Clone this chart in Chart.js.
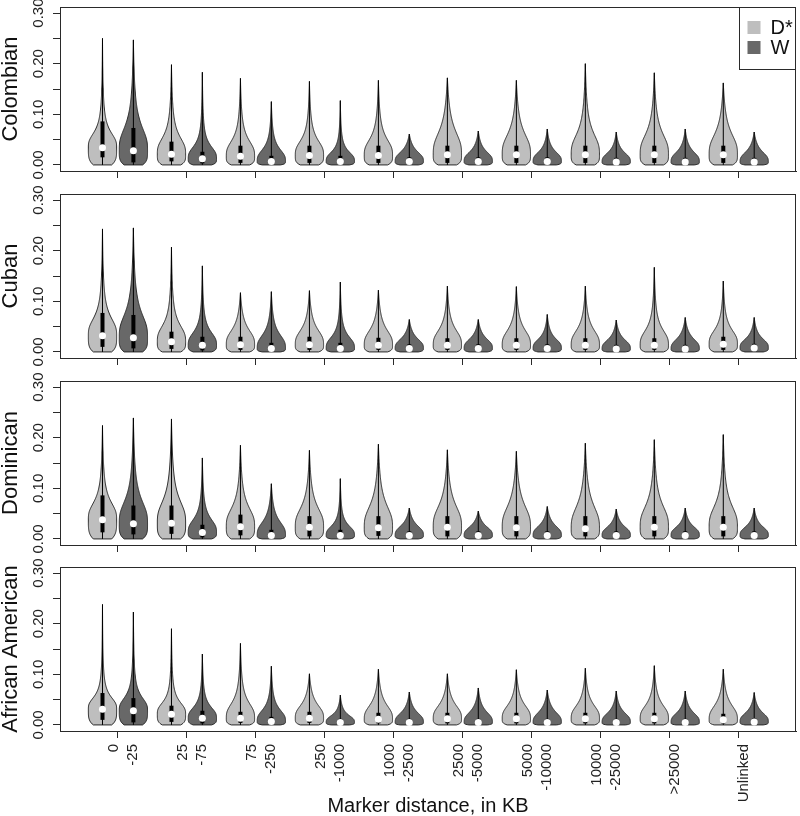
<!DOCTYPE html>
<html>
<head>
<meta charset="utf-8">
<script src="https://cdn.jsdelivr.net/npm/chart.js@4.4.0/dist/chart.umd.min.js"></script>
<style>
body { margin: 0; background: #fff; }
#wrap { position: relative; width: 800px; height: 816px; }
canvas { position: absolute; left: 0; }
</style>
</head>
<body>
<div id="wrap">
  <canvas id="c0" width="800" height="187" style="top:0px"></canvas>
  <canvas id="c1" width="800" height="207" style="top:167px"></canvas>
  <canvas id="c2" width="800" height="207" style="top:354px"></canvas>
  <canvas id="c3" width="800" height="276" style="top:540px"></canvas>
</div>
<script>
// panels, one row per population
const panels = ['Colombian', 'Cuban', 'Dominican', 'African American'];

// single labels get an empty first line so every label is centred on its tick
const groupLabels = [['0', '-25'], ['25', '-75'], ['75', '-250'], ['250', '-1000'], ['1000', '-2500'],
  ['2500', '-5000'], ['5000', '-10000'], ['10000', '-25000'], ['', '>25000'], ['', 'Unlinked']];
const singleLabel = [false, false, false, false, false, false, false, false, true, true];

const yTicks = [0, 0.05, 0.10, 0.15, 0.20, 0.25, 0.30];
const yTickLabels = ['0.00', '', '0.10', '', '0.20', '', '0.30'];

// D* violins
const dMax = [
  [0.250, 0.198, 0.171, 0.165, 0.167, 0.172, 0.167, 0.200, 0.182, 0.162],
  [0.243, 0.207, 0.117, 0.121, 0.122, 0.130, 0.129, 0.130, 0.167, 0.140],
  [0.224, 0.237, 0.185, 0.175, 0.187, 0.176, 0.173, 0.189, 0.196, 0.206],
  [0.238, 0.190, 0.161, 0.101, 0.110, 0.101, 0.109, 0.112, 0.117, 0.110]
];
const dMed = [
  [0.034, 0.021, 0.017, 0.0185, 0.0185, 0.020, 0.020, 0.020, 0.020, 0.020],
  [0.032, 0.020, 0.014, 0.014, 0.013, 0.013, 0.013, 0.013, 0.013, 0.015],
  [0.038, 0.031, 0.024, 0.023, 0.022, 0.023, 0.022, 0.020, 0.023, 0.023],
  [0.031, 0.021, 0.013, 0.013, 0.011, 0.012, 0.012, 0.012, 0.012, 0.010]
];
const dQ1 = [
  [0.015, 0.007, 0.004, 0.004, 0.004, 0.004, 0.004, 0.004, 0.004, 0.004],
  [0.010, 0.006, 0.004, 0.004, 0.004, 0.004, 0.004, 0.004, 0.004, 0.004],
  [0.013, 0.010, 0.007, 0.005, 0.006, 0.005, 0.005, 0.005, 0.005, 0.005],
  [0.010, 0.006, 0.004, 0.004, 0.003, 0.003, 0.003, 0.003, 0.003, 0.003]
];
const dQ3 = [
  [0.086, 0.046, 0.038, 0.038, 0.038, 0.038, 0.038, 0.038, 0.038, 0.038],
  [0.077, 0.040, 0.030, 0.030, 0.028, 0.027, 0.027, 0.027, 0.027, 0.030],
  [0.086, 0.066, 0.048, 0.045, 0.045, 0.045, 0.045, 0.045, 0.045, 0.045],
  [0.063, 0.038, 0.026, 0.026, 0.024, 0.024, 0.024, 0.024, 0.024, 0.022]
];
// height where the violin is half its widest
const dHalf = [
  [0.070, 0.062, 0.055, 0.055, 0.058, 0.075, 0.070, 0.070, 0.070, 0.070],
  [0.075, 0.060, 0.050, 0.050, 0.050, 0.050, 0.050, 0.050, 0.050, 0.050],
  [0.080, 0.085, 0.070, 0.070, 0.075, 0.075, 0.075, 0.075, 0.075, 0.075],
  [0.060, 0.050, 0.050, 0.045, 0.045, 0.045, 0.045, 0.045, 0.045, 0.045]
];

// W violins
const wMax = [
  [0.247, 0.183, 0.125, 0.127, 0.061, 0.067, 0.071, 0.065, 0.071, 0.065],
  [0.245, 0.170, 0.119, 0.138, 0.064, 0.064, 0.074, 0.063, 0.068, 0.068],
  [0.239, 0.160, 0.109, 0.119, 0.061, 0.055, 0.064, 0.059, 0.061, 0.061],
  [0.223, 0.140, 0.116, 0.059, 0.065, 0.073, 0.069, 0.067, 0.067, 0.064]
];
const wMed = [
  [0.028, 0.012, 0.007, 0.007, 0.007, 0.007, 0.007, 0.006, 0.006, 0.006],
  [0.028, 0.013, 0.007, 0.007, 0.007, 0.007, 0.007, 0.006, 0.006, 0.008],
  [0.030, 0.0125, 0.007, 0.007, 0.007, 0.007, 0.007, 0.007, 0.007, 0.007],
  [0.028, 0.013, 0.007, 0.005, 0.005, 0.005, 0.005, 0.005, 0.005, 0.006]
];
const wQ1 = [
  [0.005, 0.003, 0.002, 0.002, 0.002, 0.002, 0.002, 0.002, 0.002, 0.002],
  [0.007, 0.003, 0.002, 0.002, 0.002, 0.002, 0.002, 0.002, 0.002, 0.002],
  [0.009, 0.003, 0.002, 0.002, 0.002, 0.002, 0.002, 0.002, 0.002, 0.002],
  [0.005, 0.003, 0.002, 0.002, 0.002, 0.002, 0.002, 0.002, 0.002, 0.002]
];
const wQ3 = [
  [0.073, 0.026, 0.018, 0.018, 0.015, 0.015, 0.015, 0.014, 0.014, 0.014],
  [0.073, 0.030, 0.018, 0.018, 0.015, 0.015, 0.015, 0.014, 0.014, 0.016],
  [0.066, 0.028, 0.018, 0.018, 0.015, 0.015, 0.015, 0.015, 0.015, 0.015],
  [0.053, 0.028, 0.016, 0.012, 0.012, 0.012, 0.012, 0.012, 0.012, 0.013]
];
const wHalf = [
  [0.085, 0.042, 0.036, 0.030, 0.030, 0.030, 0.030, 0.028, 0.030, 0.030],
  [0.085, 0.045, 0.040, 0.035, 0.030, 0.030, 0.030, 0.028, 0.030, 0.030],
  [0.085, 0.045, 0.040, 0.030, 0.030, 0.028, 0.030, 0.028, 0.028, 0.028],
  [0.060, 0.040, 0.035, 0.022, 0.028, 0.030, 0.030, 0.028, 0.028, 0.028]
];

const COL_D = '#bebebe';
const COL_W = '#686868';
const LINE = '#2a2a2a';
const OFF = 0.224;     // offset of each violin from its group tick
const HALF_W = 0.205;  // widest half-width, in x units
const LABEL_LH = 19;   // line height of the x tick labels

Chart.defaults.font.family = "'Liberation Sans', Arial, sans-serif";

// outline half-width at height v: flat belly, rounded foot, long thin tail
function halfWidth(v, top, med, half) {
  const peak = med;
  if (v <= peak) {
    const t = (peak - v) / peak;
    return HALF_W * (1 - 0.35 * Math.pow(t, 4));
  }
  const u = (v - peak) / Math.max(half - peak, 0.004);
  const t = Math.min(1, (v - peak) / (top - peak));
  return HALF_W * Math.pow(1 + 1.828 * u * u * u, -2 / 3) * (1 - t * t * t);
}

function drawViolin(ctx, xs, ys, cx, top, med, half, q1, q3, fill) {
  const n = 120;
  ctx.beginPath();
  for (let j = 0; j <= n; j++) {
    const v = top * j / n;
    const px = xs.getPixelForValue(cx - halfWidth(v, top, med, half));
    const py = ys.getPixelForValue(v);
    j === 0 ? ctx.moveTo(px, py) : ctx.lineTo(px, py);
  }
  for (let j = n; j >= 0; j--) {
    const v = top * j / n;
    ctx.lineTo(xs.getPixelForValue(cx + halfWidth(v, top, med, half)), ys.getPixelForValue(v));
  }
  ctx.closePath();
  ctx.fillStyle = fill;
  ctx.fill();
  ctx.lineWidth = 1;
  ctx.strokeStyle = LINE;
  ctx.stroke();

  // whisker and box
  const xp = xs.getPixelForValue(cx);
  ctx.beginPath();
  ctx.moveTo(xp, ys.getPixelForValue(0));
  ctx.lineTo(xp, ys.getPixelForValue(top));
  ctx.strokeStyle = '#000';
  ctx.stroke();
  ctx.fillStyle = '#000';
  const y3 = ys.getPixelForValue(q3), y1 = ys.getPixelForValue(q1);
  ctx.fillRect(xp - 2, y3, 4, y1 - y3);
}

const violinPlugin = {
  id: 'violins',
  beforeDatasetsDraw(chart, args, opts) {
    const i = opts.panel;
    const {ctx, scales: {x, y}} = chart;
    ctx.save();
    ctx.lineJoin = 'round';
    for (let k = 0; k < groupLabels.length; k++) {
      drawViolin(ctx, x, y, k - OFF, dMax[i][k], dMed[i][k], dHalf[i][k], dQ1[i][k], dQ3[i][k], COL_D);
      drawViolin(ctx, x, y, k + OFF, wMax[i][k], wMed[i][k], wHalf[i][k], wQ1[i][k], wQ3[i][k], COL_W);
    }
    ctx.restore();
  },
  afterDraw(chart, args, opts) {
    const {ctx, chartArea: a} = chart;
    ctx.save();
    ctx.strokeStyle = LINE;
    ctx.lineWidth = 1;
    const l = Math.round(a.left) + 0.5, t = Math.round(a.top) + 0.5;
    const r = Math.round(a.right) - 0.5, b = Math.round(a.bottom) + 0.5;
    ctx.strokeRect(l, t, r - l, b - t);
    if (opts.legend) {
      const lx = Math.round(a.right) - 56.5;
      ctx.strokeRect(lx, t, r - lx, 62);
      chart.data.datasets.forEach((ds, j) => {
        ctx.fillStyle = ds.swatch;
        ctx.fillRect(lx + 8, t + 13.5 + j * 20, 13, 13);
        ctx.fillStyle = '#111';
        ctx.font = "20px 'Liberation Sans', Arial, sans-serif";
        ctx.textBaseline = 'middle';
        ctx.fillText(ds.label, lx + 31, t + 21 + j * 20);
      });
    }
    ctx.restore();
  }
};

function medianPoints(meds, i, off) {
  return meds[i].map((m, k) => ({x: k + off, y: m}));
}

panels.forEach((name, i) => {
  const last = i === panels.length - 1;
  const padTop = i === 0 ? 7 : 27;
  new Chart(document.getElementById('c' + i), {
    type: 'scatter',
    data: {
      datasets: [{
        label: 'D*',
        swatch: COL_D,
        data: medianPoints(dMed, i, -OFF),
        pointRadius: 3.5,
        pointBackgroundColor: '#fff',
        pointBorderWidth: 0
      }, {
        label: 'W',
        swatch: COL_W,
        data: medianPoints(wMed, i, OFF),
        pointRadius: 3.5,
        pointBackgroundColor: '#fff',
        pointBorderWidth: 0
      }]
    },
    options: {
      responsive: false,
      animation: false,
      layout: { padding: { top: padTop, right: 2, left: 0, bottom: 0 } },
      plugins: {
        legend: { display: false },
        tooltip: { enabled: false },
        violins: { panel: i, legend: i === 0 }
      },
      scales: {
        x: {
          type: 'linear',
          min: -0.84,
          max: 9.83,
          afterBuildTicks: s => { s.ticks = groupLabels.map((_, k) => ({ value: k })); },
          afterFit: s => {
            s.height = last ? 85 : 16;
            s.paddingLeft = 0; s.paddingRight = 0;
          },
          grid: { drawOnChartArea: false, tickLength: 7, color: LINE },
          border: { color: LINE },
          ticks: {
            display: last,
            autoSkip: false,
            minRotation: 90,
            maxRotation: 90,
            padding: 6,
            labelOffset: -4,
            color: '#222',
            font: c => ({ size: 15, lineHeight: (singleLabel[c.index] ? LABEL_LH / 2 : LABEL_LH) / 15 }),
            callback: v => groupLabels[v]
          },
          title: {
            display: last,
            text: 'Marker distance, in KB',
            color: '#111',
            font: { size: 20, lineHeight: 1 },
            padding: { top: 0, bottom: 0 }
          }
        },
        y: {
          min: -0.012,
          max: 0.312,
          afterBuildTicks: s => { s.ticks = yTicks.map(v => ({ value: v })); },
          afterFit: s => {
            s.width = 60;
            s.paddingTop = 0; s.paddingBottom = 0;
          },
          grid: { drawOnChartArea: false, tickLength: 7, color: LINE },
          border: { color: LINE },
          ticks: {
            autoSkip: false,
            minRotation: 90,
            maxRotation: 90,
            crossAlign: 'center',
            padding: 0,
            color: '#222',
            font: { size: 15 },
            callback: (v, idx) => yTickLabels[idx]
          },
          title: {
            display: true,
            text: name,
            color: '#111',
            font: { size: 22, lineHeight: 1 },
            padding: { top: 0, bottom: 0 }
          }
        }
      }
    },
    plugins: [violinPlugin]
  });
});
</script>
</body>
</html>
